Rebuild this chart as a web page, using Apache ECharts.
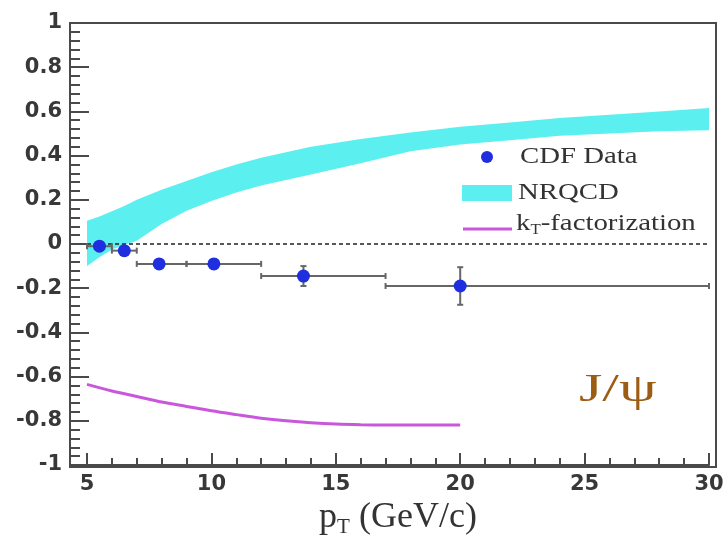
<!DOCTYPE html>
<html>
<head>
<meta charset="utf-8">
<script src="https://cdn.jsdelivr.net/npm/echarts@6/dist/echarts.min.js"></script>
<style>html,body{margin:0;padding:0;background:#fff}#c{width:728px;height:543px}</style>
</head>
<body>
<div id="c"></div>
<script>
// ---- data ----
const cdfX    = [5.5, 6.5, 7.9, 10.1, 13.7, 20.0];
const cdfY    = [-0.01, -0.03, -0.09, -0.09, -0.145, -0.19];
const cdfBinLo = [5, 6, 7, 9, 12, 17];
const cdfBinHi = [6, 7, 9, 12, 17, 30];
const cdfErr  = [0.015, 0.015, 0.015, 0.02, 0.045, 0.085];

const bandX  = [5, 5.5, 6, 6.5, 7, 8, 9, 10, 11, 12, 13, 14, 16, 18, 20, 22, 24, 26, 28, 30];
const bandHi = [0.105, 0.125, 0.148, 0.172, 0.20, 0.245, 0.285, 0.325, 0.36, 0.39, 0.415, 0.44, 0.475, 0.505, 0.53, 0.55, 0.57, 0.585, 0.60, 0.615];
const bandLo = [-0.10, -0.06, -0.025, -0.005, 0.015, 0.09, 0.15, 0.195, 0.233, 0.265, 0.29, 0.315, 0.365, 0.42, 0.45, 0.47, 0.49, 0.50, 0.51, 0.515];

const ktX = [5, 6, 7, 8, 9, 10, 11, 12, 13, 14, 15, 16, 17, 18, 19, 20];
const ktY = [-0.635, -0.665, -0.69, -0.715, -0.735, -0.755, -0.772, -0.788, -0.800, -0.809, -0.815, -0.818, -0.819, -0.819, -0.819, -0.819];

const zeroX = [5, 30];
const zeroY = [0, 0];

// ---- styles ----
const frameColor = '#4a4a4a';
const labelColor = '#383838';
const cyan = '#5ceff0';
const magenta = '#c957dc';
const blue = '#1f2fe0';

const chart = echarts.init(document.getElementById('c'));

const option = {
  animation: false,
  grid: { left: 87, right: 19, top: 23, bottom: 76 },
  xAxis: [{
    type: 'value', min: 5, max: 30, interval: 5,
    axisLine: { show: true, onZero: false, lineStyle: { color: frameColor, width: 2 } },
    axisTick: { show: true, inside: true, length: 12, lineStyle: { color: frameColor, width: 2 } },
    minorTick: { show: true, splitNumber: 5, length: 7, lineStyle: { color: frameColor, width: 2 } },
    axisLabel: { show: true, margin: 9, fontFamily: 'DejaVu Sans', fontWeight: 'bold', fontSize: 21, color: labelColor },
    splitLine: { show: false },
    name: '{a|p}{s|T}{a| (GeV/c)}', nameLocation: 'middle', nameGap: 33,
    nameTextStyle: {
      rich: {
        a: { fontFamily: 'Liberation Serif', fontSize: 36, color: '#333' },
        s: { fontFamily: 'Liberation Serif', fontSize: 21, color: '#333', verticalAlign: 'bottom', padding: [19, 0, 0, 0] }
      }
    }
  }],
  yAxis: [{
    type: 'value', min: -1, max: 1, interval: 0.2, offset: 17,
    axisLine: { show: true, onZero: false, lineStyle: { color: frameColor, width: 2 } },
    axisTick: { show: true, inside: true, length: 19, lineStyle: { color: frameColor, width: 2 } },
    minorTick: { show: true, splitNumber: 5, length: 10, lineStyle: { color: frameColor, width: 2 } },
    axisLabel: { show: true, margin: 8, fontFamily: 'DejaVu Sans', fontWeight: 'bold', fontSize: 21, color: labelColor },
    splitLine: { show: false }
  }],
  series: [
    {
      name: 'NRQCD', type: 'custom', z: 1,
      data: bandX.map((x, i) => [x, bandLo[i], bandHi[i]]),
      encode: { x: 0, y: [1, 2] },
      renderItem: function (params, api) {
        if (params.dataIndex !== 0) return null;
        const pts = [];
        for (let i = 0; i < bandX.length; i++) pts.push(api.coord([bandX[i], bandHi[i]]));
        for (let i = bandX.length - 1; i >= 0; i--) pts.push(api.coord([bandX[i], bandLo[i]]));
        return { type: 'polygon', shape: { points: pts }, style: { fill: cyan } };
      }
    },
    {
      name: 'zero', type: 'line', z: 2,
      data: zeroX.map((x, i) => [x, zeroY[i]]), symbol: 'none',
      lineStyle: { color: '#222', width: 1.5, type: [4, 3] }, silent: true
    },
    {
      name: 'kT-factorization', type: 'line', z: 3,
      data: ktX.map((x, i) => [x, ktY[i]]), symbol: 'none', smooth: 0.3,
      lineStyle: { color: magenta, width: 3 }
    },
    {
      name: 'CDF errors', type: 'custom', z: 4,
      data: cdfX.map((x, i) => [x, cdfY[i], cdfBinLo[i], cdfBinHi[i], cdfErr[i]]),
      encode: { x: [0, 2, 3], y: 1 },
      renderItem: function (params, api) {
        const x = api.value(0), y = api.value(1), lo = api.value(2), hi = api.value(3), e = api.value(4);
        const pL = api.coord([lo, y]), pR = api.coord([hi, y]);
        const pT = api.coord([x, y + e]), pB = api.coord([x, y - e]);
        const st = { stroke: '#666', lineWidth: 2 };
        const c = 3;
        return {
          type: 'group', children: [
            { type: 'line', shape: { x1: pL[0], y1: pL[1], x2: pR[0], y2: pR[1] }, style: st },
            { type: 'line', shape: { x1: pL[0], y1: pL[1] - c, x2: pL[0], y2: pL[1] + c }, style: st },
            { type: 'line', shape: { x1: pR[0], y1: pR[1] - c, x2: pR[0], y2: pR[1] + c }, style: st },
            { type: 'line', shape: { x1: pT[0], y1: pT[1], x2: pB[0], y2: pB[1] }, style: st },
            { type: 'line', shape: { x1: pT[0] - c, y1: pT[1], x2: pT[0] + c, y2: pT[1] }, style: st },
            { type: 'line', shape: { x1: pB[0] - c, y1: pB[1], x2: pB[0] + c, y2: pB[1] }, style: st }
          ]
        };
      }
    },
    {
      name: 'CDF Data', type: 'scatter', z: 5,
      data: cdfX.map((x, i) => [x, cdfY[i]]),
      symbol: 'circle', symbolSize: 13, itemStyle: { color: blue, opacity: 1 }
    }
  ],
  graphic: [
    { type: 'rect', shape: { x: 70, y: 23, width: 646, height: 444 }, style: { fill: 'none', stroke: frameColor, lineWidth: 2 }, z: 0, silent: true },
    { type: 'circle', shape: { cx: 487, cy: 157, r: 6 }, style: { fill: blue }, z: 10 },
    { type: 'rect', shape: { x: 462, y: 185, width: 50, height: 16 }, style: { fill: cyan }, z: 10 },
    { type: 'line', shape: { x1: 463, y1: 229, x2: 512, y2: 229 }, style: { stroke: magenta, lineWidth: 3 }, z: 10 },
    { type: 'text', x: 520, y: 157, scaleX: 1.2, z: 10,
      style: { text: 'CDF Data', font: '24px "Liberation Serif"', fill: '#333', verticalAlign: 'middle' } },
    { type: 'text', x: 518, y: 193, scaleX: 1.2, z: 10,
      style: { text: 'NRQCD', font: '24px "Liberation Serif"', fill: '#333', verticalAlign: 'middle' } },
    { type: 'text', x: 516, y: 224, scaleX: 1.2, z: 10,
      style: {
        text: '{a|k}{s|T}{a|-factorization}', verticalAlign: 'middle',
        rich: {
          a: { fontFamily: 'Liberation Serif', fontSize: 24, fill: '#333', color: '#333' },
          s: { fontFamily: 'Liberation Serif', fontSize: 14, fill: '#333', color: '#333', verticalAlign: 'bottom', padding: [12, 0, 0, 0] }
        }
      } },
    { type: 'text', x: 579, y: 390, scaleX: 1.5, z: 10,
      style: { text: 'J/ψ', font: '40px "Liberation Serif"', fill: '#9c5c12', verticalAlign: 'middle' } }
  ]
};
chart.setOption(option);
</script>
</body>
</html>
